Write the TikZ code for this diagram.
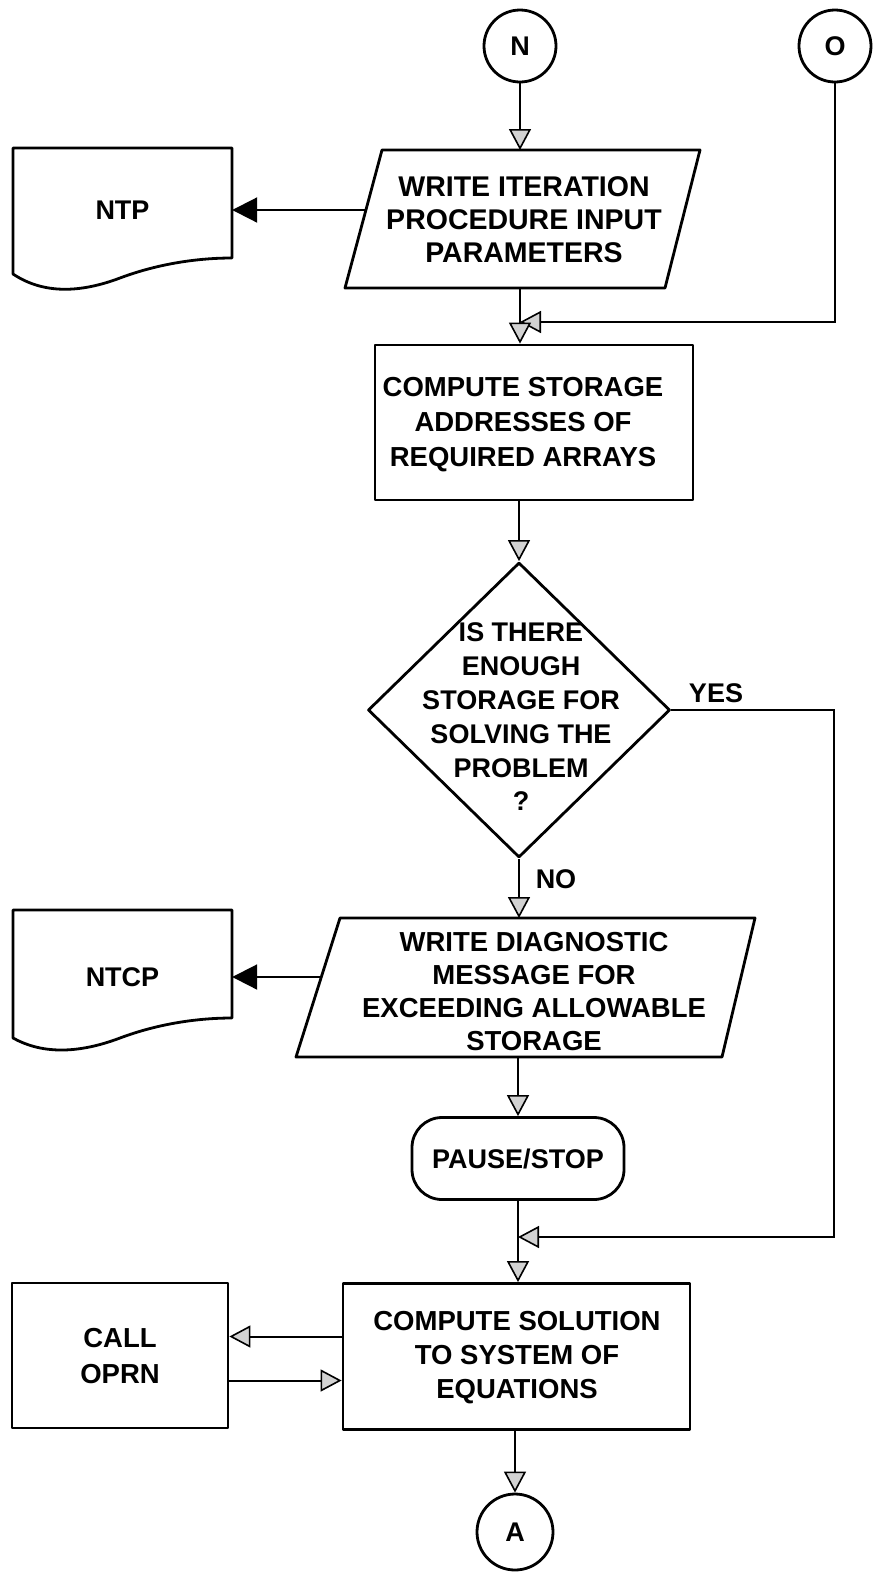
\documentclass[tikz,border=0pt]{standalone}
\usepackage{fontspec}
\setmainfont{Liberation Sans}
\usetikzlibrary{arrows.meta,shapes.geometric}

\tikzset{
  hol/.tip={Triangle[length=21pt,width=22pt,fill=gray!35,line width=1.6pt]},
  sol/.tip={Triangle[length=25pt,width=25pt]},
  lbl/.style={font=\fontsize{27}{34}\selectfont\bfseries, align=center, inner sep=0pt},
  outline/.style={draw, line width=2.8pt, line join=round},
  conn/.style={line width=2pt},
  procbox/.style={outline, rectangle, inner sep=0pt},
  connector/.style={lbl, outline, circle, inner sep=0pt, minimum size=72pt},
}

\begin{document}
\begin{tikzpicture}[x=1pt,y=-1pt]
\useasboundingbox (0,0) rectangle (881,1572);
\fill[white] (0,0) rectangle (881,1572);

% off-page connectors
\node[connector] (N) at (520,46) {N};
\node[connector] (O) at (835,46) {O};

% output document NTP
\node[lbl, minimum width=219pt, minimum height=110pt] (NTP) at (122.5,210) {NTP};
\draw[outline] (13,148) -- (232,148) -- (232,258)
  .. controls (200,258) and (160,263) .. (120,278)
  .. controls (75,295) and (40,292) .. (13,274) -- cycle;

% write iteration parameters (input/output)
\draw[outline] (382,150) -- (700,150) -- (665,288) -- (345,288) -- cycle;
\node[lbl, font=\fontsize{28.5}{33}\selectfont\bfseries] (P1) at (524,220) {WRITE ITERATION\\PROCEDURE INPUT\\PARAMETERS};
\coordinate (P1n) at (520,150);
\coordinate (P1s) at (520,288);
\coordinate (P1w) at (366,210);
\coordinate (J1) at (520,322);

% storage addresses
\node[procbox, minimum width=318pt, minimum height=155pt] (B1) at (534,422.5) {};
\node[lbl, font=\fontsize{27.5}{35}\selectfont\bfseries] (B1t) at (523,424.5)
  {COMPUTE STORAGE\\ADDRESSES OF\\REQUIRED ARRAYS};

% decision
\node[outline, diamond, minimum width=302pt, minimum height=295pt, inner sep=0pt] (D) at (519,710) {};
\node[lbl, font=\fontsize{27}{33.8}\selectfont\bfseries] (Dt) at (521,717)
  {IS THERE\\ENOUGH\\STORAGE FOR\\SOLVING THE\\PROBLEM\\?};
\node[lbl] (yes) at (716,693) {YES};
\node[lbl] (no) at (556,879) {NO};

% output document NTCP
\node[lbl, minimum width=219pt, minimum height=110pt] (NTCP) at (122.5,977) {NTCP};
\draw[outline] (13,910) -- (232,910) -- (232,1018)
  .. controls (200,1018) and (160,1023) .. (120,1038)
  .. controls (75,1055) and (40,1053) .. (13,1038) -- cycle;

% diagnostic message
\draw[outline] (340,918) -- (755,918) -- (722,1057) -- (296,1057) -- cycle;
\node[lbl, font=\fontsize{27.5}{33}\selectfont\bfseries] (P2) at (534,992)
  {WRITE DIAGNOSTIC\\MESSAGE FOR\\EXCEEDING ALLOWABLE\\STORAGE};
\coordinate (P2n) at (518,918);
\coordinate (P2s) at (518,1057);
\coordinate (P2w) at (321,977);

% terminal
\node[lbl, outline, rectangle, rounded corners=30pt, minimum width=212pt, minimum height=82pt] (S) at (518,1158.5) {PAUSE/STOP};
\coordinate (J2) at (518,1237);

% solution
\node[procbox, minimum width=347pt, minimum height=146pt] (B2) at (516.5,1356.5) {};
\node[lbl, font=\fontsize{27.5}{34}\selectfont\bfseries] (B2t) at (517,1358)
  {COMPUTE SOLUTION\\TO SYSTEM OF\\EQUATIONS};
\node[procbox, minimum width=216pt, minimum height=145pt] (C) at (120,1355.5) {};
\node[lbl, font=\fontsize{27.5}{36}\selectfont\bfseries] (Ct) at (120,1356) {CALL\\OPRN};

\node[connector, minimum size=76pt] (A) at (515,1532) {A};

% connectors
\draw[conn,-hol] (N.south) -- (P1n);
\draw[conn,-sol] (P1w) -- (NTP.east);
\draw[conn,-hol] (O.south) |- (J1);
\draw[conn,-hol] (P1s) -- (P1s |- B1.north);
\draw[conn,-hol] (B1.south -| D.north) -- (D.north);
\draw[conn,-hol] (D.south) -- (D.south |- P2n);
\draw[conn,-sol] (P2w) -- (P2w -| NTCP.east);
\draw[conn,-hol] (D.east) -- ++(163,0) |- (J2);
\draw[conn,-hol] (P2s) -- (P2s |- S.north);
\draw[conn,-hol] (S.south) -- (S.south |- B2.north);
\draw[conn,-hol] ([yshift=20pt]B2.west) -- ([yshift=20pt]B2.west -| C.east);
\draw[conn,-hol] ([yshift=-25pt]C.east) -- ([yshift=-25pt]C.east -| B2.west);
\draw[conn,-hol] (B2.south -| A.north) -- (A.north);
\end{tikzpicture}
\end{document}
